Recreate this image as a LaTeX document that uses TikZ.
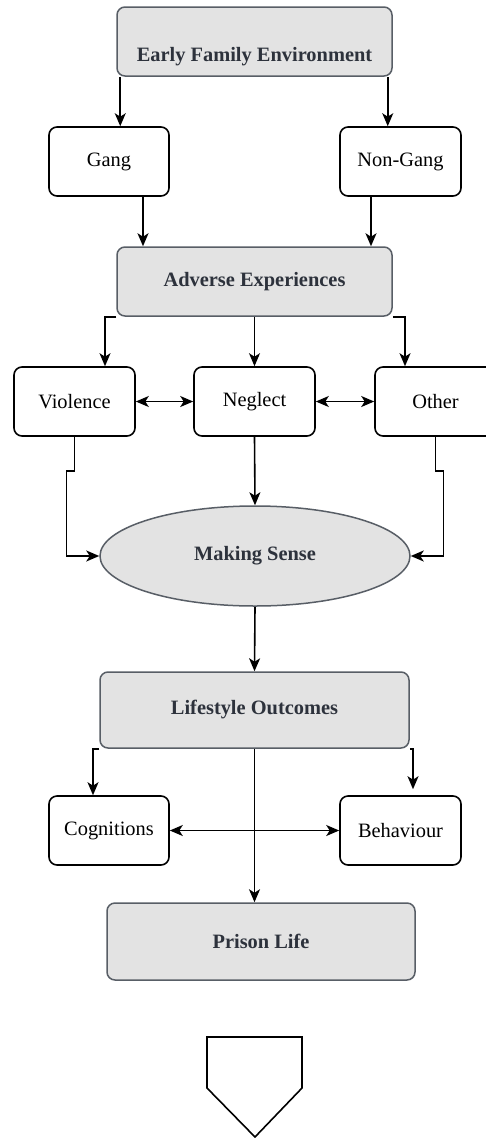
\documentclass[tikz,border=0pt]{standalone}
\usepackage{fontspec}
\setmainfont{Liberation Serif}
\usetikzlibrary{arrows.meta,shapes.geometric}
\definecolor{boxgray}{RGB}{227,227,227}
\definecolor{edgegray}{RGB}{88,94,102}
\definecolor{txtgray}{RGB}{45,50,60}
\newcommand{\fs}{\fontsize{20.4}{24}\selectfont}

\begin{document}
\begin{tikzpicture}[x=1pt,y=-1pt,
    plainbox/.style={draw=black,line width=1.6pt,rounded corners=8pt,fill=white,
      inner sep=0pt,minimum height=69pt,font=\fs},
    graybox/.style={draw=edgegray,line width=1.5pt,rounded corners=8pt,fill=boxgray,
      inner sep=0pt,text=txtgray,font=\fs\bfseries},
    arr/.style={-{Stealth[length=13pt,width=11pt,inset=3.5pt]},line width=1.6pt},
    darr/.style={{Stealth[length=13pt,width=11pt,inset=3.5pt]}-{Stealth[length=13pt,width=11pt,inset=3.5pt]},line width=1.6pt}]
     \useasboundingbox (0,0) rectangle (486,1138);
     % boxes
     \node[graybox,minimum width=275pt,minimum height=69pt] (efe) at (254.5,41.5) {};
     \node[text=txtgray,font=\fs\bfseries] at (254.5,57) {Early Family Environment};
     \node[plainbox,minimum width=120pt] (gang) at (109,161.5) {Gang};
     \node[plainbox,minimum width=121pt] (nongang) at (400.5,161.5) {Non-Gang};
     \node[graybox,minimum width=275pt,minimum height=69pt] (adv) at (254.5,281.5) {Adverse Experiences};
     \node[plainbox,minimum width=121pt] (viol) at (74.5,401.5) {Violence};
     \node[plainbox,minimum width=121pt] (negl) at (254.5,401.5) {Neglect};
     \node[plainbox,minimum width=121pt] (other) at (435.5,401.5) {Other};
     \node[graybox,ellipse,minimum width=310pt,minimum height=100pt] (sense) at (255,556) {Making Sense};
     \node[graybox,minimum width=309pt,minimum height=76pt] (life) at (254.5,710) {Lifestyle Outcomes};
     \node[plainbox,minimum width=120pt] (cog) at (109,830.5) {Cognitions};
     \node[plainbox,minimum width=121pt] (beh) at (400.5,830.5) {Behaviour};
     \node[graybox,minimum width=308pt,minimum height=77pt] (prison) at (261,941.5) {Prison Life};
     % connectors
     \draw[arr] ([xshift=4pt]efe.south west) -- ([xshift=4pt]efe.south west |- gang.north);
     \draw[arr] ([xshift=-5pt]efe.south east) -- ([xshift=-5pt]efe.south east |- nongang.north);
     \draw[arr] ([xshift=34pt]gang.south) -- ([xshift=34pt]gang.south |- adv.north);
     \draw[arr] ([xshift=-29.5pt]nongang.south) -- ([xshift=-29.5pt]nongang.south |- adv.north);
     \draw[arr] (adv.south west) -| ([xshift=30.5pt]viol.north);
     \draw[arr] (adv.south) -- (negl.north);
     \draw[arr] (adv.south east) -| ([xshift=-30.5pt]other.north);
     \draw[darr] (viol.east) -- (negl.west);
     \draw[darr] (negl.east) -- (other.west);
     \draw[arr] (viol.south) -- ++(0,34) -- ++(-8,0) |- (sense.west);
     \draw[arr] (other.south) -- ++(0,34) -- ++(8,0) |- (sense.east);
     \draw[arr] (negl.south) -- (sense.north);
     \draw[arr] (sense.south) -- (life.north);
     \draw[arr] (life.south west) -| ([xshift=-16pt]cog.north);
     \draw[arr,shorten >=6pt] (life.south east) -| ([xshift=12.5pt]beh.north);
     \draw[darr] (cog.east) -- (beh.west);
     \draw[arr] (life.south) -- (life.south |- prison.north);
     % marker below
     \draw[line width=1.6pt] (207,1037) -- (302,1037) -- (302,1088) -- (255,1137) -- (207,1088) -- cycle;
\end{tikzpicture}
\end{document}
